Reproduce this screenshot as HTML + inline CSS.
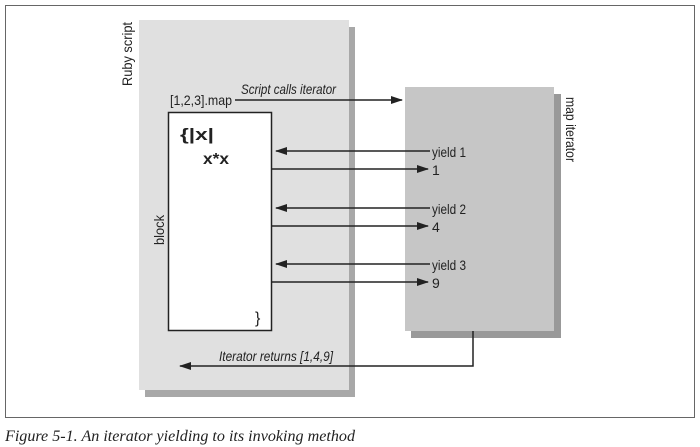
<!DOCTYPE html>
<html><head><style>
body{margin:0;background:#fff}
</style></head><body>
<svg width="700" height="447" xmlns="http://www.w3.org/2000/svg" style="display:block">
<defs>
<marker id="a" markerWidth="12" markerHeight="8" refX="11" refY="4" orient="auto" markerUnits="userSpaceOnUse">
<path d="M0,0 L12,4 L0,8 z" fill="#222"/></marker>
</defs>
<rect x="5.5" y="5.5" width="689" height="412" fill="#fff" stroke="#666" stroke-width="1"/>
<rect x="145" y="27" width="210" height="370" fill="#a8a8a8"/>
<rect x="139" y="20" width="210" height="370" fill="#e0e0e0"/>
<rect x="411" y="94" width="150" height="244" fill="#999"/>
<rect x="405" y="87" width="149" height="244" fill="#c6c6c6"/>
<rect x="168.5" y="112.5" width="103" height="218" fill="#fff" stroke="#222" stroke-width="1.5"/>
<g font-family="Liberation Sans, sans-serif" fill="#222" lengthAdjust="spacingAndGlyphs">
<text transform="translate(132,86) rotate(-90)" font-size="14" textLength="64" lengthAdjust="spacingAndGlyphs">Ruby script</text>
<text transform="translate(164,245) rotate(-90)" font-size="14" textLength="30" lengthAdjust="spacingAndGlyphs">block</text>
<text transform="translate(566,97) rotate(90)" font-size="14" textLength="65" lengthAdjust="spacingAndGlyphs">map iterator</text>
<text x="170" y="105" font-size="14" textLength="62" lengthAdjust="spacingAndGlyphs">[1,2,3].map</text>
<text x="241" y="94" font-size="14" font-style="italic" textLength="95" lengthAdjust="spacingAndGlyphs">Script calls iterator</text>
<text x="180" y="140" font-size="17" font-weight="bold" textLength="34" lengthAdjust="spacingAndGlyphs">{|x|</text>
<text x="203" y="164" font-size="16" font-weight="bold" textLength="26" lengthAdjust="spacingAndGlyphs">x*x</text>
<text x="255" y="323" font-size="16">}</text>
<text x="432" y="157" font-size="14" textLength="34" lengthAdjust="spacingAndGlyphs">yield 1</text>
<text x="432" y="175" font-size="14">1</text>
<text x="432" y="214" font-size="14" textLength="34" lengthAdjust="spacingAndGlyphs">yield 2</text>
<text x="432" y="232" font-size="14">4</text>
<text x="432" y="270" font-size="14" textLength="34" lengthAdjust="spacingAndGlyphs">yield 3</text>
<text x="432" y="288" font-size="14">9</text>
<text x="219" y="361" font-size="14" font-style="italic" textLength="114" lengthAdjust="spacingAndGlyphs">Iterator returns [1,4,9]</text>
</g>
<g stroke="#222" stroke-width="1.5" fill="none">
<line x1="235" y1="100" x2="402" y2="100" marker-end="url(#a)"/>
<line x1="430" y1="151" x2="276" y2="151" marker-end="url(#a)"/>
<line x1="272" y1="169" x2="428" y2="169" marker-end="url(#a)"/>
<line x1="430" y1="208" x2="276" y2="208" marker-end="url(#a)"/>
<line x1="272" y1="226" x2="428" y2="226" marker-end="url(#a)"/>
<line x1="430" y1="264" x2="276" y2="264" marker-end="url(#a)"/>
<line x1="272" y1="282" x2="428" y2="282" marker-end="url(#a)"/>
<polyline points="473,331 473,366 180,366" marker-end="url(#a)"/>
</g>
<text x="5" y="441" font-family="Liberation Serif, serif" font-style="italic" font-size="16" fill="#222" textLength="350" lengthAdjust="spacingAndGlyphs">Figure 5-1. An iterator yielding to its invoking method</text>
</svg>
</body></html>
